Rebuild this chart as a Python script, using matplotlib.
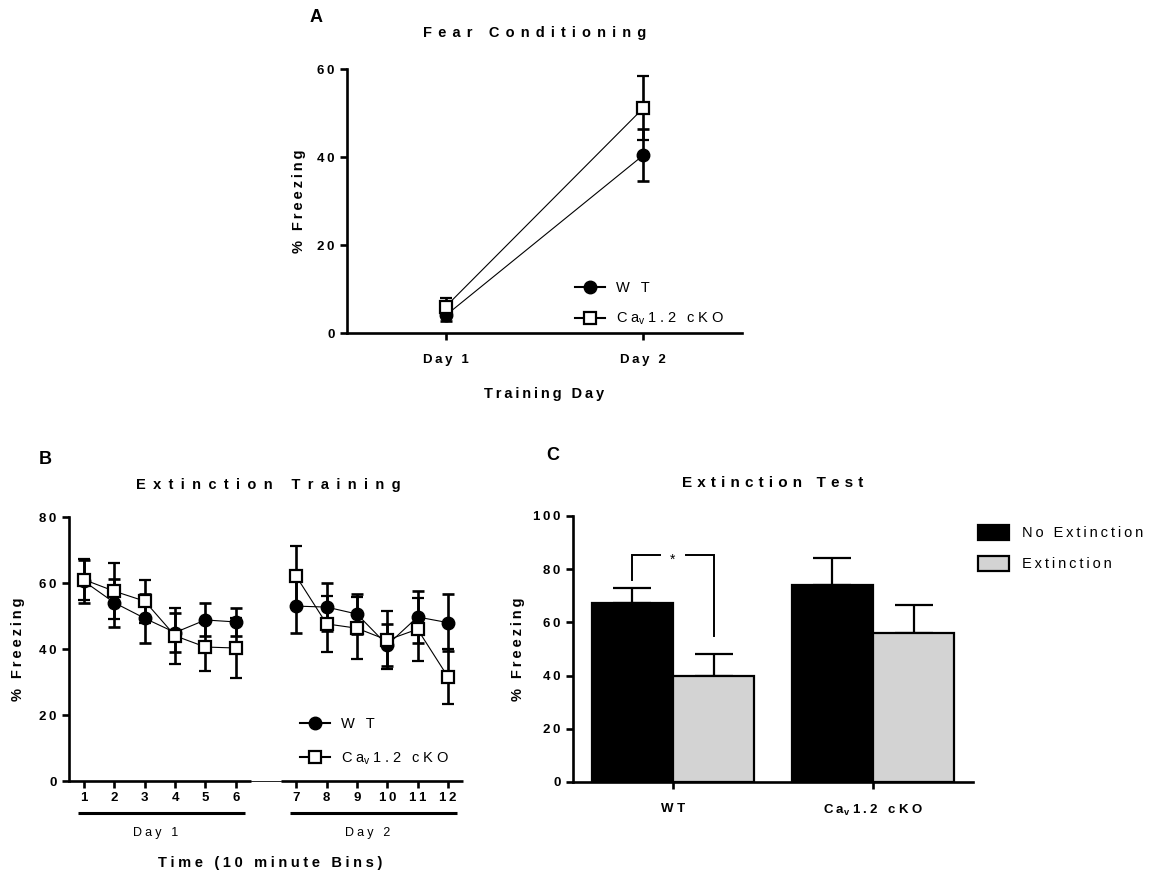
import numpy as np
import matplotlib
matplotlib.use("Agg")
import matplotlib.pyplot as plt
from matplotlib.lines import Line2D

plt.rcParams['font.family'] = ['Liberation Sans', 'DejaVu Sans']
plt.rcParams['mathtext.fontset'] = 'custom'
plt.rcParams['mathtext.rm'] = 'Liberation Sans'

# ---------------- data ----------------
# Panel A: Fear conditioning
a_days = ['Day 1', 'Day 2']
a_wt = [4.0, 40.4]
a_wt_sem = [1.2, 5.9]
a_ko = [6.0, 51.1]
a_ko_sem = [2.0, 7.3]

# Panel B: Extinction training (10 minute bins)
b_bins = ['1', '2', '3', '4', '5', '6', '7', '8', '9', '10', '11', '12']
b_wt = [60.5, 54.0, 49.3, 45.0, 48.8, 48.2, 53.0, 52.7, 50.6, 41.2, 49.7, 48.0]
b_wt_sem = [6.5, 7.3, 7.5, 6.0, 5.0, 4.3, 8.0, 7.3, 6.0, 6.4, 7.9, 8.7]
b_ko = [61.0, 57.5, 54.5, 44.0, 40.6, 40.3, 62.0, 47.6, 46.3, 42.7, 46.0, 31.6]
b_ko_sem = [6.3, 8.5, 6.5, 8.4, 7.3, 9.1, 9.3, 8.5, 9.4, 8.8, 9.5, 8.3]
b_day_labels = ['Day 1', 'Day 2']

# Panel C: Extinction test
c_groups = ['WT', 'Cav1.2 cKO']
c_noext = [67.3, 74.1]
c_noext_sem = [5.6, 10.1]
c_ext = [39.8, 56.0]
c_ext_sem = [8.3, 10.5]

W, H = 1160, 877
TH = '\u2009'
QS = '\u2005'
WIDE = '\u2004\u200a'


def ls(s, gap=TH):
    return gap.join(s)


def ko_text(gap=TH):
    return ('C' + gap + 'a$_{\\mathregular{v}}$' + gap + gap.join('1.2') + gap +
            ' ' + gap + gap.join('cKO'))


WT_LEG = 'W\u2002\u2005T'

fig = plt.figure(figsize=(W / 100, H / 100), dpi=100)


def px_axes(l, r, t, b):
    return fig.add_axes([l / W, 1 - b / H, (r - l) / W, (b - t) / H])


SP = 1.9
TICKFS = 9.5
LABFS = 10.5
TITFS = 10.5
LEGFS = 10.5


def style(ax):
    for s in ['top', 'right']:
        ax.spines[s].set_visible(False)
    for s in ['left', 'bottom']:
        ax.spines[s].set_linewidth(SP)
    ax.tick_params(direction='out', length=5, width=SP, labelsize=TICKFS, pad=4)
    for lab in ax.get_yticklabels() + ax.get_xticklabels():
        lab.set_fontweight('bold')


eb_kw = dict(capsize=4, elinewidth=1.9, capthick=1.9, ecolor='black')
wt_kw = dict(color='black', lw=0.8, marker='o', ms=9, mfc='black', mec='black')
ko_kw = dict(color='black', lw=0.8, marker='s', ms=9, mfc='white', mec='black',
             mew=1.6)


def leg_handles():
    return [Line2D([], [], color='black', lw=1.5, marker='o', ms=9, mfc='black'),
            Line2D([], [], color='black', lw=1.5, marker='s', ms=9, mfc='white',
                   mew=1.6)]


# ---------------- Panel A ----------------
axA = px_axes(347, 742, 69, 333)
xa = np.arange(1, len(a_days) + 1)
axA.errorbar(xa, a_wt, yerr=a_wt_sem, **wt_kw, **eb_kw, zorder=3)
axA.errorbar(xa, a_ko, yerr=a_ko_sem, **ko_kw, **eb_kw, zorder=4)
axA.set_xlim(0.5, 2.5)
axA.set_ylim(0, 60)
axA.set_yticks([0, 20, 40, 60])
axA.set_yticklabels([ls(str(v)) for v in [0, 20, 40, 60]])
axA.set_xticks(xa)
axA.set_xticklabels([ls(d) for d in a_days])
style(axA)
axA.tick_params(axis='x', pad=10)
axA.set_ylabel(ls('% Freezing'), fontsize=LABFS, fontweight='bold', labelpad=8)
axA.set_xlabel(ls('Training Day'), fontsize=LABFS, fontweight='bold', labelpad=15)
axA.legend(leg_handles(), [WT_LEG, ko_text(QS)], loc='upper left',
           bbox_to_anchor=(575 / W, 1 - 281 / H), bbox_transform=fig.transFigure,
           frameon=False, fontsize=LEGFS, handlelength=2.05, labelspacing=1.08,
           handletextpad=0.75, borderpad=0, borderaxespad=0)
fig.text(535 / W, 1 - 33 / H, ls('Fear Conditioning', WIDE), ha='center',
         va='center', fontsize=TITFS, fontweight='bold')
fig.text(316 / W, 1 - 17 / H, 'A', ha='center', va='center', fontsize=13,
         fontweight='bold')

# ---------------- Panel B ----------------
axB = px_axes(69, 463, 517, 781)
n1 = 6
xb = np.array([i + 1 if i < n1 else i + 2 for i in range(len(b_bins))], float)
for sl in (slice(0, n1), slice(n1, None)):
    axB.errorbar(xb[sl], b_wt[sl], yerr=b_wt_sem[sl], **wt_kw, **eb_kw, zorder=3)
for sl in (slice(0, n1), slice(n1, None)):
    axB.errorbar(xb[sl], b_ko[sl], yerr=b_ko_sem[sl], **ko_kw, **eb_kw, zorder=4)
axB.set_xlim(0.5, xb[-1] + 0.5)
axB.set_ylim(0, 80)
axB.set_yticks([0, 20, 40, 60, 80])
axB.set_yticklabels([ls(str(v)) for v in [0, 20, 40, 60, 80]])
axB.set_xticks(xb)
axB.set_xticklabels([ls(b) for b in b_bins])
style(axB)
axB.tick_params(axis='x', pad=3)
axB.spines['bottom'].set_visible(False)
tr = axB.get_xaxis_transform()
seg1 = (xb[0] - 0.5, xb[n1 - 1] + 0.5)
seg2 = (xb[n1] - 0.5, xb[-1] + 0.5)
axB.plot(seg1, [0, 0], color='black', lw=SP, transform=tr, clip_on=False,
         solid_capstyle='butt')
axB.plot(seg2, [0, 0], color='black', lw=SP, transform=tr, clip_on=False,
         solid_capstyle='butt')
axB.plot((seg1[1], seg2[0]), [0, 0], color='black', lw=0.6, transform=tr,
         clip_on=False)
for (lo, hi), lab in zip([(xb[0], xb[n1 - 1]), (xb[n1], xb[-1])], b_day_labels):
    axB.plot([lo - 0.2, hi + 0.3], [-0.121, -0.121], color='black', lw=2.2,
             transform=tr, clip_on=False, solid_capstyle='butt')
    axB.text((lo + hi) / 2 - 0.15, -0.197, ls(lab, '\u2005'), transform=tr,
             ha='center', va='center', fontsize=9)
axB.text(0.51, -0.31, ls('Time (10 minute Bins)', QS), transform=axB.transAxes,
         ha='center', va='center', fontsize=LABFS, fontweight='bold')
axB.set_ylabel(ls('% Freezing'), fontsize=LABFS, fontweight='bold', labelpad=10)
axB.legend(leg_handles(), [WT_LEG, ko_text(QS)], loc='upper left',
           bbox_to_anchor=(300 / W, 1 - 717 / H), bbox_transform=fig.transFigure,
           frameon=False, fontsize=LEGFS, handlelength=2.05, labelspacing=1.32,
           handletextpad=0.75, borderpad=0, borderaxespad=0)
fig.text(268 / W, 1 - 485 / H, ls('Extinction Training', '\u2002'), ha='center',
         va='center', fontsize=TITFS, fontweight='bold')
fig.text(45 / W, 1 - 460 / H, 'B', ha='center', va='center', fontsize=13,
         fontweight='bold')

# ---------------- Panel C ----------------
axC = px_axes(573, 973, 516, 782)
xc = np.arange(len(c_groups))
bw = 0.405
off = 0.203
axC.bar(xc - off, c_noext, width=bw, color='black', edgecolor='black', lw=1.6,
        zorder=2, label=ls('No Extinction'))
axC.bar(xc + off, c_ext, width=bw, color='#d3d3d3', edgecolor='black', lw=1.6,
        zorder=2, label=ls('Extinction'))
ebc = dict(fmt='none', ecolor='black', elinewidth=1.6, capsize=14, capthick=1.6,
           zorder=1)
axC.errorbar(xc - off, c_noext, yerr=[np.zeros(len(xc)), c_noext_sem], **ebc)
axC.errorbar(xc + off, c_ext, yerr=[np.zeros(len(xc)), c_ext_sem], **ebc)
axC.set_xlim(-0.5, 1.5)
axC.set_ylim(0, 100)
axC.set_yticks([0, 20, 40, 60, 80, 100])
axC.set_yticklabels([ls(str(v)) for v in [0, 20, 40, 60, 80, 100]])
axC.set_xticks(xc)
axC.set_xticklabels([ls('WT', ' '), ko_text(QS)])
style(axC)
axC.tick_params(axis='x', pad=10)
axC.set_ylabel(ls('% Freezing'), fontsize=LABFS, fontweight='bold', labelpad=6)
# significance bracket between WT bars
bl, br = xc[0] - off, xc[0] + off
ytop = 85.3
axC.plot([bl, bl, bl + 0.14], [c_noext[0] + c_noext_sem[0] + 3, ytop, ytop],
         color='black', lw=1.4, solid_joinstyle='miter')
axC.plot([br - 0.14, br, br], [ytop, ytop, c_ext[0] + c_ext_sem[0] + 6.6],
         color='black', lw=1.4, solid_joinstyle='miter')
axC.text((bl + br) / 2, 83.5, '*', ha='center', va='center', fontsize=10)
axC.legend(loc='upper left', bbox_to_anchor=(978 / W, 1 - 525 / H),
           bbox_transform=fig.transFigure, frameon=False, fontsize=LEGFS,
           handlelength=2.1, handleheight=1.16, labelspacing=1.1,
           handletextpad=0.95, borderpad=0, borderaxespad=0)
fig.text(773 / W, 1 - 483 / H, ls('Extinction Test', '\u2004'), ha='center',
         va='center', fontsize=11, fontweight='bold')
fig.text(553 / W, 1 - 455 / H, 'C', ha='center', va='center', fontsize=13,
         fontweight='bold')

fig.savefig('out.png', dpi=100)
